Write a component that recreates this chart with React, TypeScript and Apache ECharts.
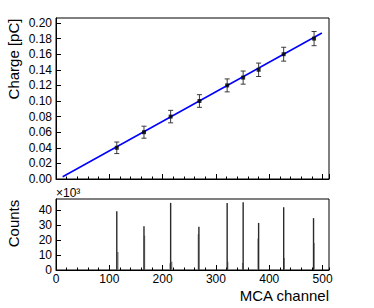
import React, { useEffect, useRef } from "react";
import * as echarts from "echarts";

// Calibration points (top panel)
const pointChannels = [114, 165, 215, 269, 321, 351, 380, 427, 484];
const pointCharges = [0.04, 0.06, 0.08, 0.10, 0.12, 0.13, 0.14, 0.16, 0.18];
const pointErrors = [0.0074, 0.0077, 0.008, 0.0081, 0.0083, 0.0084, 0.0086, 0.0089, 0.0091];

// Linear fit drawn as a line between its end points
const fitChannels = [12.5, 498.7];
const fitCharges = [0.0029, 0.1872];

// MCA spectrum (bottom panel): peak bins and neighbouring shoulder bins
const peakChannels = [114, 165, 215, 268, 321, 351, 380, 427, 483];
const peakCounts = [39300, 29300, 44900, 29000, 44900, 45300, 31500, 42000, 34700];
const shoulderChannels = [116, 166, 214, 217, 267, 322, 350, 379, 428, 484];
const shoulderCounts = [12000, 23000, 4500, 5500, 24000, 5500, 4700, 21000, 8000, 18000];

const yTopTicks = [0, 0.02, 0.04, 0.06, 0.08, 0.10, 0.12, 0.14, 0.16, 0.18, 0.20];
const yBottomTicks = [0, 10, 20, 30, 40];

const FONT = "Liberation Sans, Arial, Helvetica, sans-serif";

export default function App() {
  const ref = useRef<HTMLDivElement>(null);
  useEffect(() => {
    if (!ref.current) return;
    const chart = echarts.init(ref.current, null, { renderer: "svg" });

    const histData = [
      ...shoulderChannels.map((c, i) => ({ value: [c, shoulderCounts[i]], itemStyle: { color: "#8a8a8a" } })),
      ...peakChannels.map((c, i) => ({ value: [c, peakCounts[i]], itemStyle: { color: "#2a2a2a" } })),
    ];

    const axisLine = { show: true, lineStyle: { color: "#000", width: 1 } };

    const option: any = {
      animation: false,
      textStyle: { fontFamily: FONT },
      grid: [
        { left: 56, top: 18, width: 273, height: 161, show: true, borderColor: "#000", borderWidth: 1, backgroundColor: "transparent" },
        { left: 56, top: 199, width: 273, height: 71, show: true, borderColor: "#000", borderWidth: 1, backgroundColor: "transparent" },
      ],
      xAxis: [
        { type: "value", gridIndex: 0, position: "bottom", min: 0, max: 512, interval: 20, axisLine, axisLabel: { show: false },
          axisTick: { show: true, inside: true, length: 2.5, lineStyle: { color: "#000" } }, splitLine: { show: false } },
        { type: "value", gridIndex: 0, position: "bottom", min: 0, max: 512, interval: 100, axisLine: { show: false }, axisLabel: { show: false },
          axisTick: { show: true, inside: true, length: 5, lineStyle: { color: "#000" } }, splitLine: { show: false } },
        { type: "value", gridIndex: 1, position: "bottom", min: 0, max: 512, interval: 20, axisLine, axisLabel: { show: false },
          axisTick: { show: true, inside: true, length: 2.5, lineStyle: { color: "#000" } }, splitLine: { show: false } },
        { type: "value", gridIndex: 1, position: "bottom", min: 0, max: 512, interval: 100, axisLine: { show: false },
          axisLabel: { show: true, showMaxLabel: false, margin: 3, fontSize: 12, color: "#000", fontFamily: FONT,
            formatter: (v: number) => (v % 100 === 0 ? String(v) : "") },
          axisTick: { show: true, inside: true, length: 5, lineStyle: { color: "#000" } }, splitLine: { show: false } },
      ],
      yAxis: [
        { type: "value", gridIndex: 0, position: "left", min: 0, max: 0.2064, interval: 0.02, axisLine,
          axisLabel: { show: true, showMaxLabel: false, margin: 4, fontSize: 12, color: "#000", fontFamily: FONT,
            formatter: (v: number) => (yTopTicks.some((t) => Math.abs(t - v) < 1e-9) ? v.toFixed(2) : "") },
          axisTick: { show: true, inside: true, length: 5, lineStyle: { color: "#000" } }, splitLine: { show: false } },
        { type: "value", gridIndex: 1, position: "left", min: 0, max: 47500, interval: 10000, axisLine,
          axisLabel: { show: true, showMaxLabel: false, margin: 4, fontSize: 12, color: "#000", fontFamily: FONT,
            formatter: (v: number) => (yBottomTicks.includes(v / 1000) ? String(v / 1000) : "") },
          axisTick: { show: true, inside: true, length: 5, lineStyle: { color: "#000" } }, splitLine: { show: false } },
      ],
      series: [
        {
          type: "line", xAxisIndex: 0, yAxisIndex: 0, symbol: "none",
          data: fitChannels.map((c, i) => [c, fitCharges[i]]),
          lineStyle: { color: "#0000ff", width: 1.5 }, z: 2,
        },
        {
          type: "custom", xAxisIndex: 0, yAxisIndex: 0, z: 3,
          data: pointChannels.map((c, i) => [c, pointCharges[i], pointErrors[i]]),
          encode: { x: 0, y: 1 },
          renderItem: (params: any, api: any) => {
            const x = api.value(0), y = api.value(1), e = api.value(2);
            const top = api.coord([x, y + e]);
            const bot = api.coord([x, y - e]);
            const style = { stroke: "#3a3a3a", lineWidth: 1 };
            const hw = 2.5;
            return {
              type: "group",
              children: [
                { type: "line", shape: { x1: top[0], y1: top[1], x2: bot[0], y2: bot[1] }, style },
                { type: "line", shape: { x1: top[0] - hw, y1: top[1], x2: top[0] + hw, y2: top[1] }, style },
                { type: "line", shape: { x1: bot[0] - hw, y1: bot[1], x2: bot[0] + hw, y2: bot[1] }, style },
              ],
            };
          },
        },
        {
          type: "scatter", xAxisIndex: 0, yAxisIndex: 0, symbol: "rect", symbolSize: 4, z: 4,
          itemStyle: { color: "#000" },
          data: pointChannels.map((c, i) => [c, pointCharges[i]]),
        },
        {
          type: "bar", xAxisIndex: 2, yAxisIndex: 1, barWidth: 1.4, data: histData,
        },
      ],
      graphic: [
        { type: "text", x: 13.5, y: 59, rotation: Math.PI / 2,
          style: { text: "Charge [pC]", fontSize: 15, fontFamily: FONT, fill: "#000", textAlign: "center", textVerticalAlign: "middle" } },
        { type: "text", x: 13.5, y: 223.5, rotation: Math.PI / 2,
          style: { text: "Counts", fontSize: 15, fontFamily: FONT, fill: "#000", textAlign: "center", textVerticalAlign: "middle" } },
        { type: "text", x: 329, y: 295,
          style: { text: "MCA channel", fontSize: 15, fontFamily: FONT, fill: "#000", textAlign: "right", textVerticalAlign: "middle" } },
        { type: "text", x: 56, y: 193,
          style: { text: "×10³", fontSize: 12, fontFamily: FONT, fill: "#000", textAlign: "left", textVerticalAlign: "middle" } },
      ],
    };
    chart.setOption(option);
    return () => chart.dispose();
  }, []);
  return <div ref={ref} style={{ position: "absolute", left: 0, top: 0, width: 374, height: 308 }} />;
}
